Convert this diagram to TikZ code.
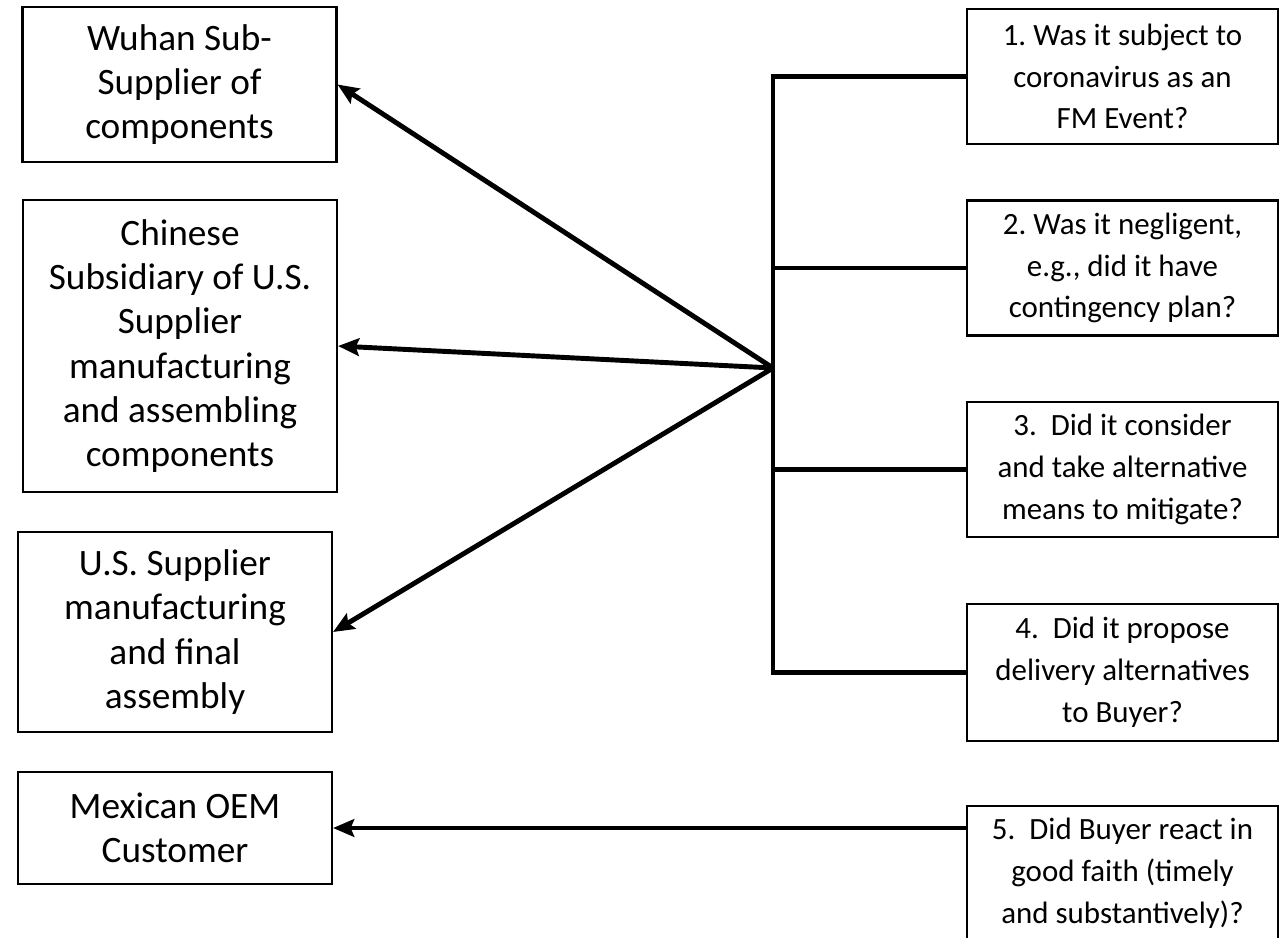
\documentclass[tikz,border=0pt]{standalone}
\usepackage{fontspec}
\setmainfont{Carlito}
\usetikzlibrary{arrows.meta}
\frenchspacing
\tikzset{
	boite/.style={draw,line width=0.6pt,align=center,minimum width=3.14cm,font=\fontsize{10.6}{12.6}\selectfont},
	question/.style={draw,line width=0.6pt,align=center,minimum width=3.11cm,minimum height=1.35cm,font=\fontsize{8.8}{11.9}\selectfont},
	trait/.style={line width=1.4pt},
	fleche/.style={trait,-{Stealth[length=6pt,width=5pt,inset=1pt]}}
}

\begin{document}
\begin{tikzpicture}
	\useasboundingbox (0,0) rectangle (12.79,9.37);
	\clip (0,0) rectangle (12.79,9.37);
	% Chaine d'approvisionnement %
	\node[boite,minimum height=1.55cm] (wuhan) at (1.795,8.525) {Wuhan Sub-\\Supplier of\\components};
	\node[boite,minimum height=2.92cm] (chinois) at (1.80,5.91) {Chinese\\Subsidiary of U.S.\\Supplier\\manufacturing\\and assembling\\components};
	\node[boite,minimum height=2cm] (usa) at (1.75,3.05) {U.S. Supplier\\manufacturing\\and final\\assembly};
	\node[boite,minimum height=1.12cm] (mexicain) at (1.75,1.09) {Mexican OEM\\Customer};
	% Questions %
	\node[question] (q1) at (11.225,8.605) {1. Was it subject to\\coronavirus as an\\FM Event?};
	\node[question] (q2) at (11.225,6.69) {2. Was it negligent,\\e.g., did it have\\contingency plan?};
	\node[question] (q3) at (11.225,4.675) {3.~~Did it consider\\and take alternative\\means to mitigate?};
	\node[question,minimum height=1.37cm] (q4) at (11.225,2.645) {4.~~Did it propose\\delivery alternatives\\to Buyer?};
	\node[question] (q5) at (11.225,0.635) {5.~~Did Buyer react in\\good faith (timely\\and substantively)?};
	% Accolade %
	\coordinate (hub) at (7.73,5.69);
	\draw[trait] (q1.west) -- (q1.west -| hub) -- (q4.west -| hub) -- (q4.west);
	\draw[trait] (q2.west) -- (q2.west -| hub);
	\draw[trait] (q3.west) -- (q3.west -| hub);
	% Fleches %
	\draw[fleche] (hub) -- (wuhan.east);
	\draw[fleche] (hub) -- (chinois.east);
	\draw[fleche] (hub) -- (usa.east);
	\draw[fleche] (q5.west |- mexicain.east) -- (mexicain.east);
\end{tikzpicture}
\end{document}
